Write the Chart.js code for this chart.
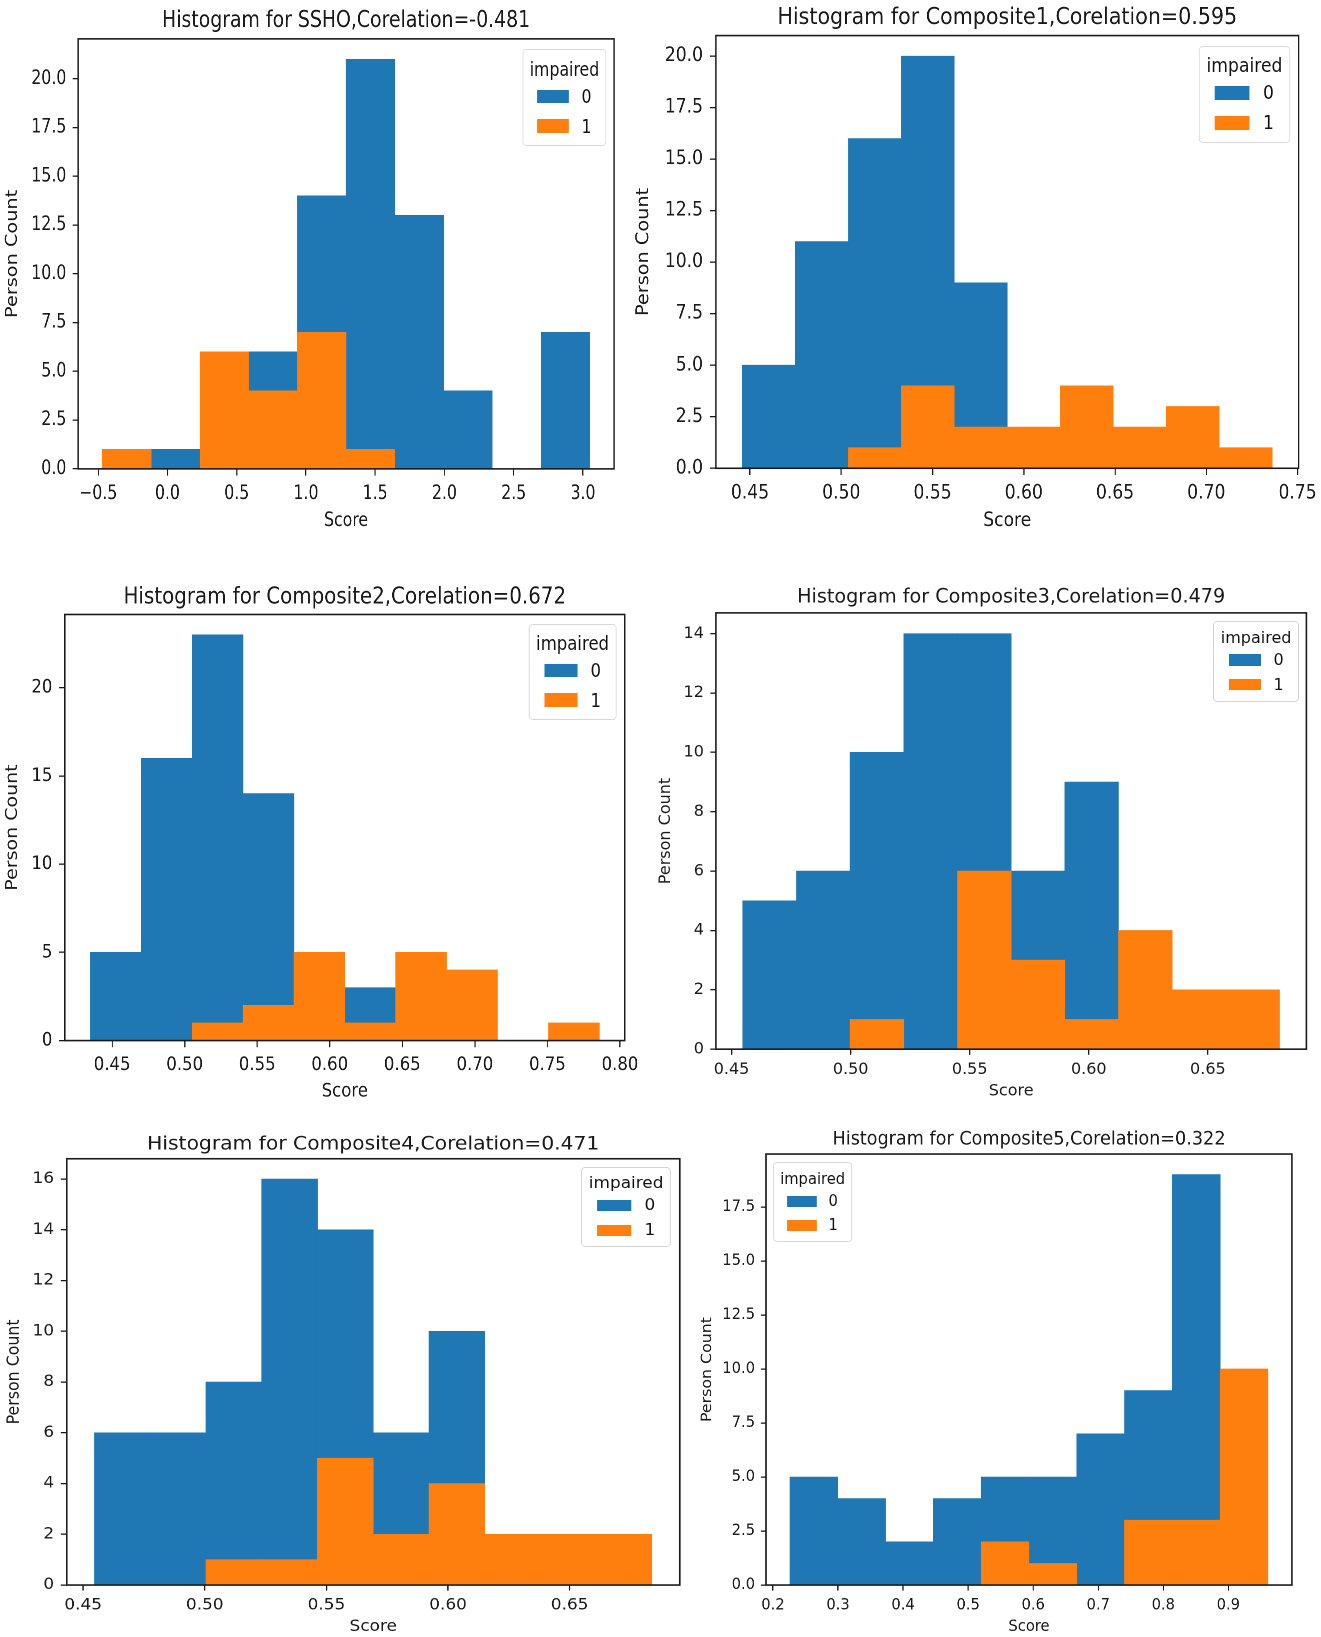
<!DOCTYPE html>
<html>
<head>
<meta charset="utf-8">
<title>Histograms by impairment</title>
<script src="https://cdn.jsdelivr.net/npm/chart.js@4.4.1/dist/chart.umd.min.js"></script>
<style>
    html, body { margin: 0; padding: 0; background: #fff; }
    body { width: 1321px; height: 1637px; position: relative; overflow: hidden; font-family: 'DejaVu Sans', sans-serif; }
    .panel { position: absolute; transform-origin: 0 0; }
    .panel canvas { position: absolute; left: 0; top: 0; }
    .legend-box { position: absolute; padding: 0.4em; border: 1px solid #d4d4d4; border-radius: 0.25em; background: rgba(255, 255, 255, 0.8); line-height: 1.2; color: #111; white-space: nowrap; }
    .legend-box .legend-title { text-align: center; }
    .legend-box .legend-items { display: table; margin: 0.2em auto 0; }
    .legend-box .legend-row { display: flex; align-items: center; }
    .legend-box .legend-row + .legend-row { margin-top: 0.35em; }
    .legend-box .legend-swatch { display: inline-block; width: 2em; height: 0.7em; margin-right: 0.8em; }
</style>
</head>
<body>
<script>
// Bin edges and counts per group (impaired = 0 / 1)
const sshoEdges = [-0.469, -0.117, 0.235, 0.586, 0.938, 1.290, 1.642, 1.993, 2.345, 2.697, 3.049];
const sshoCount0 = [0, 1, 0, 6, 14, 21, 13, 4, 0, 7];
const sshoCount1 = [1, 0, 6, 4, 7, 1, 0, 0, 0, 0];

const comp1Edges = [0.4458, 0.4748, 0.5039, 0.5329, 0.5619, 0.5910, 0.6200, 0.6490, 0.6780, 0.7071, 0.7361];
const comp1Count0 = [5, 11, 16, 20, 9, 0, 0, 0, 0, 0];
const comp1Count1 = [0, 0, 1, 4, 2, 2, 4, 2, 3, 1];

const comp2Edges = [0.4349, 0.4700, 0.5051, 0.5402, 0.5753, 0.6104, 0.6454, 0.6805, 0.7156, 0.7507, 0.7858];
const comp2Count0 = [5, 16, 23, 14, 0, 3, 0, 0, 0, 0];
const comp2Count1 = [0, 0, 1, 2, 5, 1, 5, 4, 0, 1];

const comp3Edges = [0.4547, 0.4772, 0.4998, 0.5223, 0.5449, 0.5674, 0.5899, 0.6125, 0.6350, 0.6576, 0.6801];
const comp3Count0 = [5, 6, 10, 14, 14, 6, 9, 0, 0, 0];
const comp3Count1 = [0, 0, 1, 0, 6, 3, 1, 4, 2, 2];

const comp4Edges = [0.4547, 0.4776, 0.5005, 0.5234, 0.5463, 0.5693, 0.5922, 0.6151, 0.6380, 0.6609, 0.6838];
const comp4Count0 = [6, 6, 8, 16, 14, 6, 10, 0, 0, 0];
const comp4Count1 = [0, 0, 1, 1, 5, 2, 4, 2, 2, 2];

const comp5Edges = [0.2261, 0.2996, 0.3731, 0.4466, 0.5201, 0.5936, 0.6670, 0.7405, 0.8140, 0.8875, 0.9610];
const comp5Count0 = [5, 4, 2, 4, 5, 5, 7, 9, 19, 0];
const comp5Count1 = [0, 0, 0, 0, 2, 1, 0, 3, 3, 10];

// Tick values
const sshoXTicks = [-0.5, 0, 0.5, 1, 1.5, 2, 2.5, 3];
const sshoYTicks = [0, 2.5, 5, 7.5, 10, 12.5, 15, 17.5, 20];
const comp1XTicks = [0.45, 0.5, 0.55, 0.6, 0.65, 0.7, 0.75];
const comp1YTicks = [0, 2.5, 5, 7.5, 10, 12.5, 15, 17.5, 20];
const comp2XTicks = [0.45, 0.5, 0.55, 0.6, 0.65, 0.7, 0.75, 0.8];
const comp2YTicks = [0, 5, 10, 15, 20];
const comp3XTicks = [0.45, 0.5, 0.55, 0.6, 0.65];
const comp3YTicks = [0, 2, 4, 6, 8, 10, 12, 14];
const comp4XTicks = [0.45, 0.5, 0.55, 0.6, 0.65];
const comp4YTicks = [0, 2, 4, 6, 8, 10, 12, 14, 16];
const comp5XTicks = [0.2, 0.3, 0.4, 0.5, 0.6, 0.7, 0.8, 0.9];
const comp5YTicks = [0, 2.5, 5, 7.5, 10, 12.5, 15, 17.5];

const groupLabels = ['0', '1'];
const legendTitle = 'impaired';
const xLabel = 'Score';
const yLabel = 'Person Count';

const BLUE = '#1f77b4';
const ORANGE = '#ff7f0e';
const INK = '#1a1a1a';

// canvas 'middle' baseline sits a little below the centre of capitals
const CAP_SHIFT = 0.07;

Chart.defaults.font.family = "'DejaVu Sans', sans-serif";
Chart.defaults.color = INK;

/**
 * Panel layout: plot area in page pixels, font size and horizontal squeeze
 */
const panels = [
    {
        title: 'Histogram for SSHO,Corelation=-0.481',
        edges: sshoEdges, count0: sshoCount0, count1: sshoCount1,
        xTicks: sshoXTicks, xDec: 1, yTicks: sshoYTicks, yDec: 1,
        area: { left: 78, right: 614, top: 39.3, bottom: 469.3 },
        titleY: 19.7, xLabelY: 520, yLabelX: 12.6, font: 19.3, sx: 0.815, legendSide: 'right'
    },
    {
        title: 'Histogram for Composite1,Corelation=0.595',
        edges: comp1Edges, count0: comp1Count0, count1: comp1Count1,
        xTicks: comp1XTicks, xDec: 2, yTicks: comp1YTicks, yDec: 1,
        area: { left: 716, right: 1298.8, top: 36, bottom: 468.7 },
        titleY: 16.7, xLabelY: 520, yLabelX: 644, font: 19.3, sx: 0.89, legendSide: 'right'
    },
    {
        title: 'Histogram for Composite2,Corelation=0.672',
        edges: comp2Edges, count0: comp2Count0, count1: comp2Count1,
        xTicks: comp2XTicks, xDec: 2, yTicks: comp2YTicks, yDec: 0,
        area: { left: 65, right: 625, top: 614.4, bottom: 1040.5 },
        titleY: 596, xLabelY: 1090, yLabelX: 12.6, font: 19, sx: 0.87, legendSide: 'right'
    },
    {
        title: 'Histogram for Composite3,Corelation=0.479',
        edges: comp3Edges, count0: comp3Count0, count1: comp3Count1,
        xTicks: comp3XTicks, xDec: 2, yTicks: comp3YTicks, yDec: 0,
        area: { left: 716.3, right: 1306.8, top: 612.7, bottom: 1049 },
        titleY: 596, xLabelY: 1090, yLabelX: 666, font: 16, sx: 1.0, legendSide: 'right'
    },
    {
        title: 'Histogram for Composite4,Corelation=0.471',
        edges: comp4Edges, count0: comp4Count0, count1: comp4Count1,
        xTicks: comp4XTicks, xDec: 2, yTicks: comp4YTicks, yDec: 0,
        area: { left: 66.8, right: 679.8, top: 1159, bottom: 1585.3 },
        titleY: 1143.3, xLabelY: 1626, yLabelX: 14.5, font: 15.8, sx: 1.07, legendSide: 'right'
    },
    {
        title: 'Histogram for Composite5,Corelation=0.322',
        edges: comp5Edges, count0: comp5Count0, count1: comp5Count1,
        xTicks: comp5XTicks, xDec: 1, yTicks: comp5YTicks, yDec: 1,
        area: { left: 766.5, right: 1292.4, top: 1154.3, bottom: 1585.3 },
        titleY: 1138.3, xLabelY: 1626, yLabelX: 708, font: 15.8, sx: 0.93, legendSide: 'left'
    }
];

/**
 * Axes frame (all four spines)
 */
const framePlugin = {
    id: 'frame',
    afterDraw(chart) {
        const { ctx, chartArea: a } = chart;
        ctx.save();
        ctx.strokeStyle = INK;
        ctx.lineWidth = 1.6;
        ctx.strokeRect(a.left, a.top, a.right - a.left, a.bottom - a.top);
        ctx.restore();
    }
};

function formatTick(value, decimals) {
    return value.toFixed(decimals).replace('-', '\u2212');
}

// Bars sit at bin centres; width comes from the spacing of the centres
function binPoints(edges, counts) {
    return counts.map((c, i) => ({ x: (edges[i] + edges[i + 1]) / 2, y: c }));
}

function buildPanel(p) {
    const f = p.font;
    const ft = f * 1.2;
    const sx = p.sx;
    const tickLen = 0.35 * f;

    const wrapLeft = p.yLabelX - (4 + 0.6 * f) * sx;
    const wrapTop = p.titleY + CAP_SHIFT * ft - 2 - 0.6 * ft;
    const yAxisW = (p.area.left - wrapLeft) / sx;
    const titleH = p.area.top - wrapTop;
    const xAxisH = p.xLabelY + CAP_SHIFT * f - p.area.bottom + 0.6 * f + 4;
    const plotW = (p.area.right - p.area.left) / sx;
    const plotH = p.area.bottom - p.area.top;

    const W = Math.ceil(yAxisW + plotW + 1.8 * f);
    const H = Math.ceil(titleH + plotH + xAxisH);

    const span = p.edges[p.edges.length - 1] - p.edges[0];
    const xMin = p.edges[0] - 0.05 * span;
    const xMax = p.edges[p.edges.length - 1] + 0.05 * span;
    const yMax = 1.05 * Math.max(...p.count0, ...p.count1);

    const wrap = document.createElement('div');
    wrap.className = 'panel';
    wrap.style.left = wrapLeft + 'px';
    wrap.style.top = wrapTop + 'px';
    wrap.style.width = W + 'px';
    wrap.style.height = H + 'px';
    wrap.style.transform = `scaleX(${sx})`;
    document.body.appendChild(wrap);

    const canvas = document.createElement('canvas');
    canvas.width = W;
    canvas.height = H;
    wrap.appendChild(canvas);

    const gridOpts = {
        display: true,
        drawOnChartArea: false,
        drawTicks: true,
        tickLength: tickLen,
        tickColor: INK,
        tickWidth: 1.3,
        lineWidth: 1.3,
        offset: false
    };

    const chart = new Chart(canvas, {
        type: 'bar',
        data: {
            datasets: [
                {
                    label: groupLabels[0],
                    data: binPoints(p.edges, p.count0),
                    backgroundColor: BLUE,
                    borderWidth: 0,
                    grouped: false,
                    barPercentage: 1,
                    categoryPercentage: 1,
                    order: 2
                },
                {
                    label: groupLabels[1],
                    data: binPoints(p.edges, p.count1),
                    backgroundColor: ORANGE,
                    borderWidth: 0,
                    grouped: false,
                    barPercentage: 1,
                    categoryPercentage: 1,
                    order: 1
                }
            ]
        },
        options: {
            responsive: false,
            animation: false,
            devicePixelRatio: 2,
            events: [],
            layout: {
                padding: { left: 0, top: 0, right: W - yAxisW - plotW, bottom: H - titleH - plotH - xAxisH }
            },
            plugins: {
                legend: { display: false },
                tooltip: { enabled: false },
                title: {
                    display: true,
                    fullSize: false,
                    text: p.title,
                    color: INK,
                    font: { size: ft, weight: 'normal', lineHeight: 1.2 },
                    padding: { top: 2, bottom: titleH - 2 - 1.2 * ft }
                }
            },
            scales: {
                x: {
                    type: 'linear',
                    min: xMin,
                    max: xMax,
                    offset: false,
                    grid: gridOpts,
                    border: { display: false },
                    ticks: {
                        autoSkip: false,
                        maxRotation: 0,
                        padding: 0.35 * f,
                        font: { size: f },
                        color: INK,
                        callback: v => formatTick(v, p.xDec)
                    },
                    title: {
                        display: true,
                        text: xLabel,
                        color: INK,
                        font: { size: f },
                        padding: { top: 4, bottom: 4 }
                    },
                    afterBuildTicks: scale => { scale.ticks = p.xTicks.map(v => ({ value: v })); },
                    afterFit: scale => { scale.height = xAxisH; }
                },
                y: {
                    min: 0,
                    max: yMax,
                    grid: gridOpts,
                    border: { display: false },
                    ticks: {
                        autoSkip: false,
                        padding: 0.4 * f,
                        font: { size: f },
                        color: INK,
                        callback: v => formatTick(v, p.yDec)
                    },
                    title: {
                        display: true,
                        text: yLabel,
                        color: INK,
                        font: { size: f },
                        padding: { top: 4, bottom: 4 }
                    },
                    afterBuildTicks: scale => { scale.ticks = p.yTicks.map(v => ({ value: v })); },
                    afterFit: scale => { scale.width = yAxisW; }
                }
            }
        },
        plugins: [framePlugin]
    });

    buildLegend(wrap, chart, p, W);
}

/**
 * HTML legend box inside the axes, like the matplotlib one
 */
function buildLegend(wrap, chart, p, wrapW) {
    const colors = [BLUE, ORANGE];
    const box = document.createElement('div');
    box.className = 'legend-box';
    box.style.fontSize = p.font + 'px';

    let rows = '';
    groupLabels.forEach((label, i) => {
        rows += `
            <div class="legend-row">
                <span class="legend-swatch" style="background:${colors[i]}"></span>
                <span>${label}</span>
            </div>`;
    });
    box.innerHTML = `<div class="legend-title">${legendTitle}</div><div class="legend-items">${rows}</div>`;

    const a = chart.chartArea;
    const gap = 0.5 * p.font;
    box.style.top = (a.top + gap) + 'px';
    if (p.legendSide === 'left') {
        box.style.left = (a.left + gap) + 'px';
    } else {
        box.style.right = (wrapW - a.right + gap) + 'px';
    }
    wrap.appendChild(box);
}

panels.forEach(buildPanel);
</script>
</body>
</html>
